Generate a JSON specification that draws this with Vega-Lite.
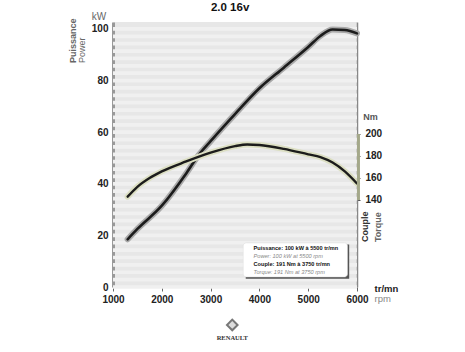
{
  "$schema": "https://vega.github.io/schema/vega-lite/v6.json",
  "width": 244,
  "height": 265,
  "autosize": {"type": "none"},
  "padding": {"left": 113, "top": 22, "right": 108, "bottom": 65},
  "background": "white",
  "config": {"view": {"fill": "#e7e7e7", "stroke": null}, "font": "Liberation Sans"},
  "datasets": {
    "power": [
      {"rpm": 1300, "kW": 18.5}, {"rpm": 1500, "kW": 22.5}, {"rpm": 2000, "kW": 31.5}, {"rpm": 2500, "kW": 44},
      {"rpm": 2750, "kW": 51}, {"rpm": 3000, "kW": 56.5}, {"rpm": 3500, "kW": 67}, {"rpm": 4000, "kW": 77},
      {"rpm": 4500, "kW": 85}, {"rpm": 5000, "kW": 93}, {"rpm": 5250, "kW": 97.3}, {"rpm": 5500, "kW": 99.8},
      {"rpm": 5750, "kW": 99.6}, {"rpm": 6000, "kW": 98.3}
    ],
    "torque": [
      {"rpm": 1300, "Nm": 143}, {"rpm": 1500, "Nm": 152}, {"rpm": 1750, "Nm": 160}, {"rpm": 2000, "Nm": 166},
      {"rpm": 2500, "Nm": 175}, {"rpm": 3000, "Nm": 183}, {"rpm": 3500, "Nm": 189}, {"rpm": 3750, "Nm": 190.5},
      {"rpm": 4000, "Nm": 190}, {"rpm": 4500, "Nm": 186.5}, {"rpm": 5000, "Nm": 181.5}, {"rpm": 5250, "Nm": 179},
      {"rpm": 5500, "Nm": 174}, {"rpm": 5750, "Nm": 166}, {"rpm": 6000, "Nm": 155}
    ],
    "stripes": [
      {"kW": 0}, {"kW": 2.857}, {"kW": 5.714}, {"kW": 8.571}, {"kW": 11.429}, {"kW": 14.286}, {"kW": 17.143},
      {"kW": 20}, {"kW": 22.857}, {"kW": 25.714}, {"kW": 28.571}, {"kW": 31.429}, {"kW": 34.286}, {"kW": 37.143},
      {"kW": 40}, {"kW": 42.857}, {"kW": 45.714}, {"kW": 48.571}, {"kW": 51.429}, {"kW": 54.286}, {"kW": 57.143},
      {"kW": 60}, {"kW": 62.857}, {"kW": 65.714}, {"kW": 68.571}, {"kW": 71.429}, {"kW": 74.286}, {"kW": 77.143},
      {"kW": 80}, {"kW": 82.857}, {"kW": 85.714}, {"kW": 88.571}, {"kW": 91.429}, {"kW": 94.286}, {"kW": 97.143},
      {"kW": 100}
    ],
    "one": [{}]
  },
  "layer": [
    {
      "layer": [
        {
          "data": {"name": "stripes"},
          "mark": {"type": "rule", "color": "#f0f0f0", "strokeWidth": 3.7},
          "encoding": {
            "y": {"field": "kW", "type": "quantitative", "scale": {"domain": [0, 102.7], "nice": false},
              "axis": {"values": [0, 20, 40, 60, 80, 100], "title": null, "ticks": false, "domainColor": "#999", "domainWidth": 3, "labelFont": "Liberation Sans", "labelFontWeight": "bold", "labelFontSize": 10, "labelColor": "#222", "labelPadding": 5, "grid": false}}
          }
        },
        {
          "data": {"name": "power"},
          "mark": {"type": "line", "color": "#a9a9a9", "strokeWidth": 6, "strokeCap": "round", "interpolate": "monotone"},
          "encoding": {
            "x": {"field": "rpm", "type": "quantitative", "scale": {"domain": [1000, 6000], "nice": false, "zero": false},
              "axis": {"values": [1000, 2000, 3000, 4000, 5000, 6000], "format": "d", "title": null, "domain": false, "ticks": true, "tickSize": 4, "tickColor": "#666", "labelFlush": false, "labelFont": "Liberation Sans", "labelFontWeight": "bold", "labelFontSize": 10, "labelColor": "#222", "labelPadding": 3, "grid": false}},
            "y": {"field": "kW", "type": "quantitative"}
          }
        },
        {
          "data": {"name": "power"},
          "mark": {"type": "line", "color": "#1c1c1c", "strokeWidth": 2.6, "strokeCap": "round", "interpolate": "monotone"},
          "encoding": {"x": {"field": "rpm", "type": "quantitative"}, "y": {"field": "kW", "type": "quantitative"}}
        },
        {
          "data": {"name": "one"},
          "mark": {"type": "rect", "color": "#555"},
          "encoding": {"x": {"datum": 3720}, "x2": {"datum": 5840}, "y": {"datum": 16.5}, "y2": {"datum": 3.2}}
        },
        {
          "data": {"name": "one"},
          "mark": {"type": "rect", "color": "white", "cornerRadius": 3, "stroke": "#ddd", "strokeWidth": 0.5},
          "encoding": {"x": {"datum": 3669}, "x2": {"datum": 5805}, "y": {"datum": 17.1}, "y2": {"datum": 3.9}}
        },
        {
          "data": {"name": "one"},
          "mark": {"type": "text", "text": "Puissance: 100 kW à 5500 tr/mn", "fontSize": 5.6, "fontWeight": "bold", "color": "#111", "align": "left", "baseline": "middle"},
          "encoding": {"x": {"datum": 3880}, "y": {"datum": 15.3}}
        },
        {
          "data": {"name": "one"},
          "mark": {"type": "text", "text": "Power: 100 kW at 5500 rpm", "fontSize": 5.6, "fontStyle": "italic", "color": "#888", "align": "left", "baseline": "middle"},
          "encoding": {"x": {"datum": 3880}, "y": {"datum": 12.0}}
        },
        {
          "data": {"name": "one"},
          "mark": {"type": "text", "text": "Couple: 191 Nm à 3750 tr/mn", "fontSize": 5.6, "fontWeight": "bold", "color": "#111", "align": "left", "baseline": "middle"},
          "encoding": {"x": {"datum": 3880}, "y": {"datum": 8.9}}
        },
        {
          "data": {"name": "one"},
          "mark": {"type": "text", "text": "Torque: 191 Nm at 3750 rpm", "fontSize": 5.6, "fontStyle": "italic", "color": "#888", "align": "left", "baseline": "middle"},
          "encoding": {"x": {"datum": 3880}, "y": {"datum": 5.8}}
        },
        {
          "data": {"name": "one"},
          "mark": {"type": "text", "text": "2.0  16v", "fontSize": 11.5, "fontWeight": "bold", "color": "#111", "align": "center", "baseline": "middle"},
          "encoding": {"x": {"datum": 3400}, "y": {"datum": 108.2}}
        },
        {
          "data": {"name": "one"},
          "mark": {"type": "text", "text": "kW", "fontSize": 10, "color": "#666", "align": "right", "baseline": "middle"},
          "encoding": {"x": {"datum": 860}, "y": {"datum": 104.6}}
        },
        {
          "data": {"name": "one"},
          "mark": {"type": "text", "text": "Puissance", "fontSize": 9, "fontWeight": "bold", "color": "#666", "align": "left", "baseline": "middle", "angle": 270},
          "encoding": {"x": {"datum": 180}, "y": {"datum": 86.8}}
        },
        {
          "data": {"name": "one"},
          "mark": {"type": "text", "text": "Power", "fontSize": 9, "color": "#666", "align": "left", "baseline": "middle", "angle": 270},
          "encoding": {"x": {"datum": 370}, "y": {"datum": 86.8}}
        },
        {
          "data": {"name": "one"},
          "mark": {"type": "text", "text": "Nm", "fontSize": 9, "fontWeight": "bold", "color": "#555", "align": "left", "baseline": "middle"},
          "encoding": {"x": {"datum": 6130}, "y": {"datum": 65.9}}
        },
        {
          "data": {"name": "one"},
          "mark": {"type": "text", "text": "Couple", "fontSize": 9, "fontWeight": "bold", "color": "#333", "align": "left", "baseline": "middle", "angle": 270},
          "encoding": {"x": {"datum": 6160}, "y": {"datum": 17.4}}
        },
        {
          "data": {"name": "one"},
          "mark": {"type": "text", "text": "Torque", "fontSize": 9, "fontWeight": "bold", "color": "#666", "align": "left", "baseline": "middle", "angle": 270},
          "encoding": {"x": {"datum": 6440}, "y": {"datum": 17.4}}
        },
        {
          "data": {"name": "one"},
          "mark": {"type": "text", "text": "tr/mn", "fontSize": 9.5, "fontWeight": "bold", "color": "#222", "align": "left", "baseline": "middle"},
          "encoding": {"x": {"datum": 6360}, "y": {"datum": -0.8}}
        },
        {
          "data": {"name": "one"},
          "mark": {"type": "text", "text": "rpm", "fontSize": 9.5, "color": "#888", "align": "left", "baseline": "middle"},
          "encoding": {"x": {"datum": 6360}, "y": {"datum": -4.6}}
        },
        {
          "data": {"name": "one"},
          "mark": {"type": "point", "shape": "diamond", "size": 180, "filled": true, "color": "#777", "opacity": 1},
          "encoding": {"x": {"datum": 3444}, "y": {"datum": -14.7}}
        },
        {
          "data": {"name": "one"},
          "mark": {"type": "point", "shape": "diamond", "size": 60, "filled": true, "color": "#ddd", "opacity": 1},
          "encoding": {"x": {"datum": 3444}, "y": {"datum": -14.7}}
        },
        {
          "data": {"name": "one"},
          "mark": {"type": "text", "text": "RENAULT", "font": "Liberation Serif", "fontSize": 6.5, "fontWeight": "bold", "color": "#333", "align": "center", "baseline": "middle"},
          "encoding": {"x": {"datum": 3444}, "y": {"datum": -19.8}}
        }
      ]
    },
    {
      "layer": [
        {
          "data": {"name": "torque"},
          "mark": {"type": "line", "color": "#dcdfc3", "strokeWidth": 6, "strokeCap": "round", "interpolate": "monotone"},
          "encoding": {
            "x": {"field": "rpm", "type": "quantitative"},
            "y": {"field": "Nm", "type": "quantitative", "scale": {"domain": [60.9, 301.8], "nice": false, "zero": false},
              "axis": {"orient": "right", "values": [140, 160, 180, 200], "title": null, "grid": false, "domainColor": "#888", "domainWidth": 1.5, "ticks": true, "tickSize": 3, "tickColor": "#555", "labelFont": "Liberation Sans", "labelFontWeight": "bold", "labelFontSize": 10, "labelColor": "#222", "labelPadding": 5}}
          }
        },
        {
          "data": {"name": "torque"},
          "mark": {"type": "line", "color": "#1c1c1c", "strokeWidth": 2.4, "strokeCap": "round", "interpolate": "monotone"},
          "encoding": {"x": {"field": "rpm", "type": "quantitative"}, "y": {"field": "Nm", "type": "quantitative"}}
        },
        {
          "data": {"name": "one"},
          "mark": {"type": "rule", "color": "#a4a88a", "strokeWidth": 3},
          "encoding": {"x": {"datum": 6030}, "y": {"datum": 140}, "y2": {"datum": 200}}
        }
      ]
    }
  ],
  "resolve": {"scale": {"y": "independent"}, "axis": {"y": "independent"}}
}
